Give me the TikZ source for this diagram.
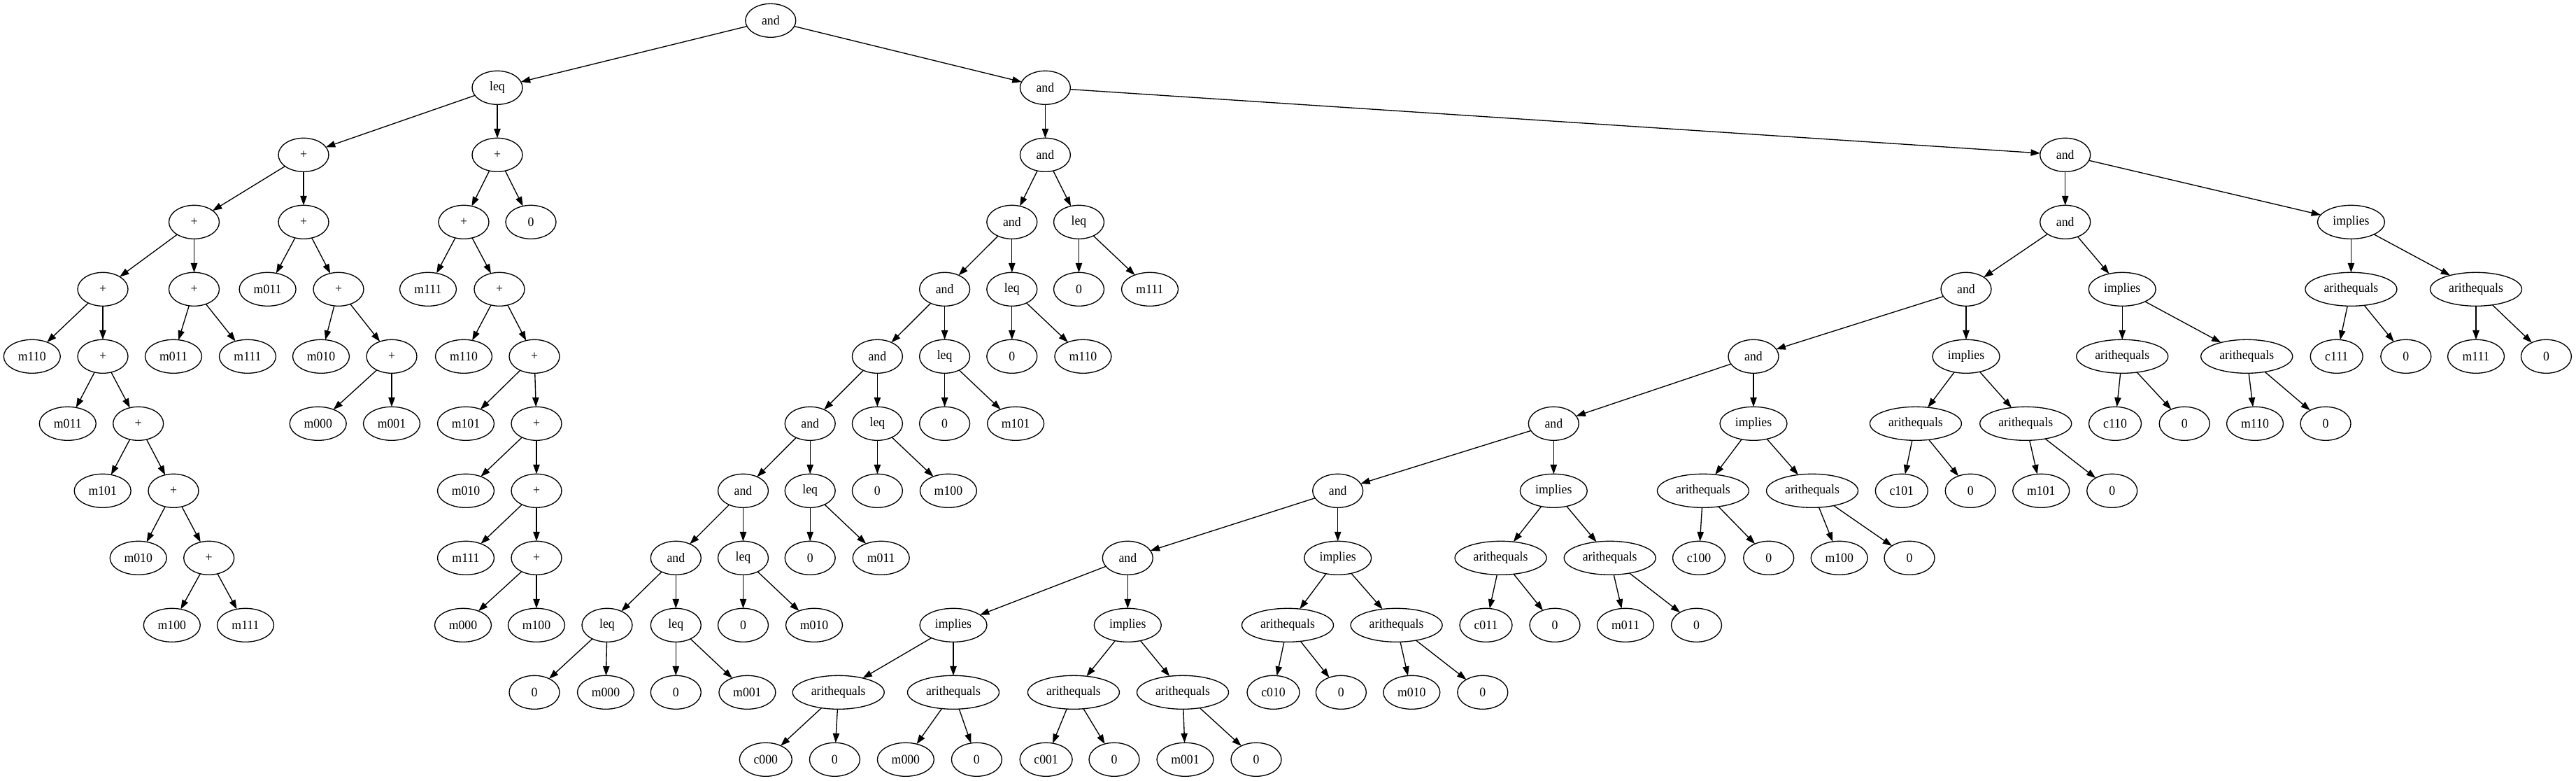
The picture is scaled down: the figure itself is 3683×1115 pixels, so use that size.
\documentclass[tikz,border=0pt]{standalone}
\usepackage{fontspec}
\newfontfamily\gvfont{Liberation Serif}[FakeStretch=0.95]
\newcommand\gvf{\gvfont\fontsize{14pt}{16pt}\selectfont}
\usetikzlibrary{shapes.geometric,arrows.meta}
\tikzset{
  base/.style={draw, ellipse, inner sep=0pt, outer sep=0pt, minimum height=36pt, minimum width=54pt, line width=1pt, font=\gvf},
  mw/.style={base, minimum width=60.75pt},
  cw/.style={base, minimum width=56.25pt},
  iw/.style={base, minimum width=72pt},
  aw/.style={base, minimum width=98.25pt},
  arr/.style={line width=1pt, -{Triangle[length=10pt,width=7pt]}}
}
\begin{document}
\begin{tikzpicture}[x=0.75pt,y=-0.75pt]
\fill[white] (0,0) rectangle (3683,1115);
\useasboundingbox (0,0) rectangle (3683,1115);
% rank 0
\node[base] (v0a) at (1101.8,29.3) {and};
% rank 1
\node[base] (v1a) at (711,125.3) {leq};
\node[base] (v1b) at (1494.4,125.3) {and};
% rank 2
\node[base] (v2a) at (434,221.3) {+};
\node[base] (v2b) at (711,221.3) {+};
\node[base] (v2c) at (1494.4,221.3) {and};
\node[base] (v2d) at (2952.7,221.3) {and};
% rank 3
\node[base] (v3a) at (277.5,317.3) {+};
\node[base] (v3b) at (434,317.3) {+};
\node[base] (v3c) at (663,317.3) {+};
\node[base] (v3d) at (759,317.3) {0};
\node[base] (v3e) at (1446.8,317.3) {and};
\node[base] (v3f) at (1542.5,317.3) {leq};
\node[base] (v3g) at (2952.7,317.3) {and};
\node[iw] (v3h) at (3361.4,317.3) {implies};
% rank 4
\node[base] (v4a) at (147,413.3) {+};
\node[base] (v4b) at (277.5,413.3) {+};
\node[mw] (v4c) at (382.6,413.3) {m011};
\node[base] (v4d) at (484,413.3) {+};
\node[mw] (v4e) at (612,413.3) {m111};
\node[base] (v4f) at (714,413.3) {+};
\node[base] (v4g) at (1350.6,413.3) {and};
\node[base] (v4h) at (1446.8,413.3) {leq};
\node[base] (v4i) at (1542.5,413.3) {0};
\node[mw] (v4j) at (1644,413.3) {m111};
\node[base] (v4k) at (2811,413.3) {and};
\node[iw] (v4l) at (3034.2,413.3) {implies};
\node[aw] (v4m) at (3361.4,413.3) {arithequals};
\node[aw] (v4n) at (3540,413.3) {arithequals};
% rank 5
\node[mw] (v5a) at (45.8,509.3) {m110};
\node[base] (v5b) at (147,509.3) {+};
\node[mw] (v5c) at (248,509.3) {m011};
\node[mw] (v5d) at (354,509.3) {m111};
\node[mw] (v5e) at (459,509.3) {m010};
\node[base] (v5f) at (560,509.3) {+};
\node[mw] (v5g) at (663,509.3) {m110};
\node[base] (v5h) at (764,509.3) {+};
\node[base] (v5i) at (1254.4,509.3) {and};
\node[base] (v5j) at (1350.6,509.3) {leq};
\node[base] (v5k) at (1446.8,509.3) {0};
\node[mw] (v5l) at (1548.4,509.3) {m110};
\node[base] (v5m) at (2507,509.3) {and};
\node[iw] (v5n) at (2811,509.3) {implies};
\node[aw] (v5o) at (3034.2,509.3) {arithequals};
\node[aw] (v5p) at (3212.2,509.3) {arithequals};
\node[cw] (v5q) at (3340.7,509.3) {c111};
\node[base] (v5r) at (3439.8,509.3) {0};
\node[mw] (v5s) at (3540,509.3) {m111};
\node[base] (v5t) at (3640.4,509.3) {0};
% rank 6
\node[mw] (v6a) at (96.8,605.3) {m011};
\node[base] (v6b) at (197.7,605.3) {+};
\node[mw] (v6c) at (454.7,605.3) {m000};
\node[mw] (v6d) at (560,605.3) {m001};
\node[mw] (v6e) at (666,605.3) {m101};
\node[base] (v6f) at (767,605.3) {+};
\node[base] (v6g) at (1158.2,605.3) {and};
\node[base] (v6h) at (1254.4,605.3) {leq};
\node[base] (v6i) at (1350.6,605.3) {0};
\node[mw] (v6j) at (1452.1,605.3) {m101};
\node[base] (v6k) at (2221.3,605.3) {and};
\node[iw] (v6l) at (2507,605.3) {implies};
\node[aw] (v6m) at (2738.9,605.3) {arithequals};
\node[aw] (v6n) at (2896.2,605.3) {arithequals};
\node[cw] (v6o) at (3024,605.3) {c110};
\node[base] (v6p) at (3123.2,605.3) {0};
\node[mw] (v6q) at (3224,605.3) {m110};
\node[base] (v6r) at (3325,605.3) {0};
% rank 7
\node[mw] (v7a) at (146.7,701.3) {m101};
\node[base] (v7b) at (248,701.3) {+};
\node[mw] (v7c) at (666,701.3) {m010};
\node[base] (v7d) at (767,701.3) {+};
\node[base] (v7e) at (1062.5,701.3) {and};
\node[base] (v7f) at (1158.2,701.3) {leq};
\node[base] (v7g) at (1254.4,701.3) {0};
\node[mw] (v7h) at (1355.9,701.3) {m100};
\node[base] (v7i) at (1912.7,701.3) {and};
\node[iw] (v7j) at (2221.3,701.3) {implies};
\node[aw] (v7k) at (2434.9,701.3) {arithequals};
\node[aw] (v7l) at (2591,701.3) {arithequals};
\node[cw] (v7m) at (2718.8,701.3) {c101};
\node[base] (v7n) at (2817.2,701.3) {0};
\node[mw] (v7o) at (2918.2,701.3) {m101};
\node[base] (v7p) at (3019.7,701.3) {0};
% rank 8
\node[mw] (v8a) at (197.7,797.3) {m010};
\node[base] (v8b) at (298.7,797.3) {+};
\node[mw] (v8c) at (666,797.3) {m111};
\node[base] (v8d) at (767,797.3) {+};
\node[base] (v8e) at (966.3,797.3) {and};
\node[base] (v8f) at (1062.5,797.3) {leq};
\node[base] (v8g) at (1158.2,797.3) {0};
\node[mw] (v8h) at (1259.7,797.3) {m011};
\node[base] (v8i) at (1612.3,797.3) {and};
\node[iw] (v8j) at (1912.7,797.3) {implies};
\node[aw] (v8k) at (2145.6,797.3) {arithequals};
\node[aw] (v8l) at (2301.7,797.3) {arithequals};
\node[cw] (v8m) at (2429,797.3) {c100};
\node[base] (v8n) at (2528.7,797.3) {0};
\node[mw] (v8o) at (2629.7,797.3) {m100};
\node[base] (v8p) at (2730,797.3) {0};
% rank 9
\node[mw] (v9a) at (245.8,893.3) {m100};
\node[mw] (v9b) at (351,893.3) {m111};
\node[mw] (v9c) at (662,893.3) {m000};
\node[mw] (v9d) at (767,893.3) {m100};
\node[base] (v9e) at (868,893.3) {leq};
\node[base] (v9f) at (966.3,893.3) {leq};
\node[base] (v9g) at (1062.5,893.3) {0};
\node[mw] (v9h) at (1164,893.3) {m010};
\node[iw] (v9i) at (1363,893.3) {implies};
\node[iw] (v9j) at (1612.3,893.3) {implies};
\node[aw] (v9k) at (1841,893.3) {arithequals};
\node[aw] (v9l) at (1996.6,893.3) {arithequals};
\node[cw] (v9m) at (2124.5,893.3) {c011};
\node[base] (v9n) at (2223,893.3) {0};
\node[mw] (v9o) at (2324,893.3) {m011};
\node[base] (v9p) at (2425.5,893.3) {0};
% rank 10
\node[base] (v10a) at (764,989.3) {0};
\node[mw] (v10b) at (866,989.3) {m000};
\node[base] (v10c) at (966.3,989.3) {0};
\node[mw] (v10d) at (1068.4,989.3) {m001};
\node[aw] (v10e) at (1198.7,989.3) {arithequals};
\node[aw] (v10f) at (1363,989.3) {arithequals};
\node[aw] (v10g) at (1534.9,989.3) {arithequals};
\node[aw] (v10h) at (1691,989.3) {arithequals};
\node[cw] (v10i) at (1820.5,989.3) {c010};
\node[base] (v10j) at (1917.4,989.3) {0};
\node[mw] (v10k) at (2018.3,989.3) {m010};
\node[base] (v10l) at (2119.8,989.3) {0};
% rank 11
\node[cw] (v11a) at (1094.8,1085.3) {c000};
\node[base] (v11b) at (1193.4,1085.3) {0};
\node[mw] (v11c) at (1294.9,1085.3) {m000};
\node[base] (v11d) at (1396.4,1085.3) {0};
\node[cw] (v11e) at (1495.6,1085.3) {c001};
\node[base] (v11f) at (1593,1085.3) {0};
\node[mw] (v11g) at (1694.5,1085.3) {m001};
\node[base] (v11h) at (1796,1085.3) {0};
% edges
\foreach \p/\c in {v0a/v1a, v0a/v1b,
  v1a/v2a, v1a/v2b, v1b/v2c, v1b/v2d,
  v2a/v3a, v2a/v3b, v2b/v3c, v2b/v3d, v2c/v3e, v2c/v3f, v2d/v3g, v2d/v3h,
  v3a/v4a, v3a/v4b, v3b/v4c, v3b/v4d, v3c/v4e, v3c/v4f, v3e/v4g, v3e/v4h,
  v3f/v4i, v3f/v4j, v3g/v4k, v3g/v4l, v3h/v4m, v3h/v4n,
  v4a/v5a, v4a/v5b, v4b/v5c, v4b/v5d, v4d/v5e, v4d/v5f, v4f/v5g, v4f/v5h,
  v4g/v5i, v4g/v5j, v4h/v5k, v4h/v5l, v4k/v5m, v4k/v5n, v4l/v5o, v4l/v5p,
  v4m/v5q, v4m/v5r, v4n/v5s, v4n/v5t,
  v5b/v6a, v5b/v6b, v5f/v6c, v5f/v6d, v5h/v6e, v5h/v6f, v5i/v6g, v5i/v6h,
  v5j/v6i, v5j/v6j, v5m/v6k, v5m/v6l, v5n/v6m, v5n/v6n, v5o/v6o, v5o/v6p,
  v5p/v6q, v5p/v6r,
  v6b/v7a, v6b/v7b, v6f/v7c, v6f/v7d, v6g/v7e, v6g/v7f, v6h/v7g, v6h/v7h,
  v6k/v7i, v6k/v7j, v6l/v7k, v6l/v7l, v6m/v7m, v6m/v7n, v6n/v7o, v6n/v7p,
  v7b/v8a, v7b/v8b, v7d/v8c, v7d/v8d, v7e/v8e, v7e/v8f, v7f/v8g, v7f/v8h,
  v7i/v8i, v7i/v8j, v7j/v8k, v7j/v8l, v7k/v8m, v7k/v8n, v7l/v8o, v7l/v8p,
  v8b/v9a, v8b/v9b, v8d/v9c, v8d/v9d, v8e/v9e, v8e/v9f, v8f/v9g, v8f/v9h,
  v8i/v9i, v8i/v9j, v8j/v9k, v8j/v9l, v8k/v9m, v8k/v9n, v8l/v9o, v8l/v9p,
  v9e/v10a, v9e/v10b, v9f/v10c, v9f/v10d, v9i/v10e, v9i/v10f, v9j/v10g, v9j/v10h,
  v9k/v10i, v9k/v10j, v9l/v10k, v9l/v10l,
  v10e/v11a, v10e/v11b, v10f/v11c, v10f/v11d, v10g/v11e, v10g/v11f, v10h/v11g, v10h/v11h}
  \draw[arr] (\p) -- (\c);
\end{tikzpicture}
\end{document}
